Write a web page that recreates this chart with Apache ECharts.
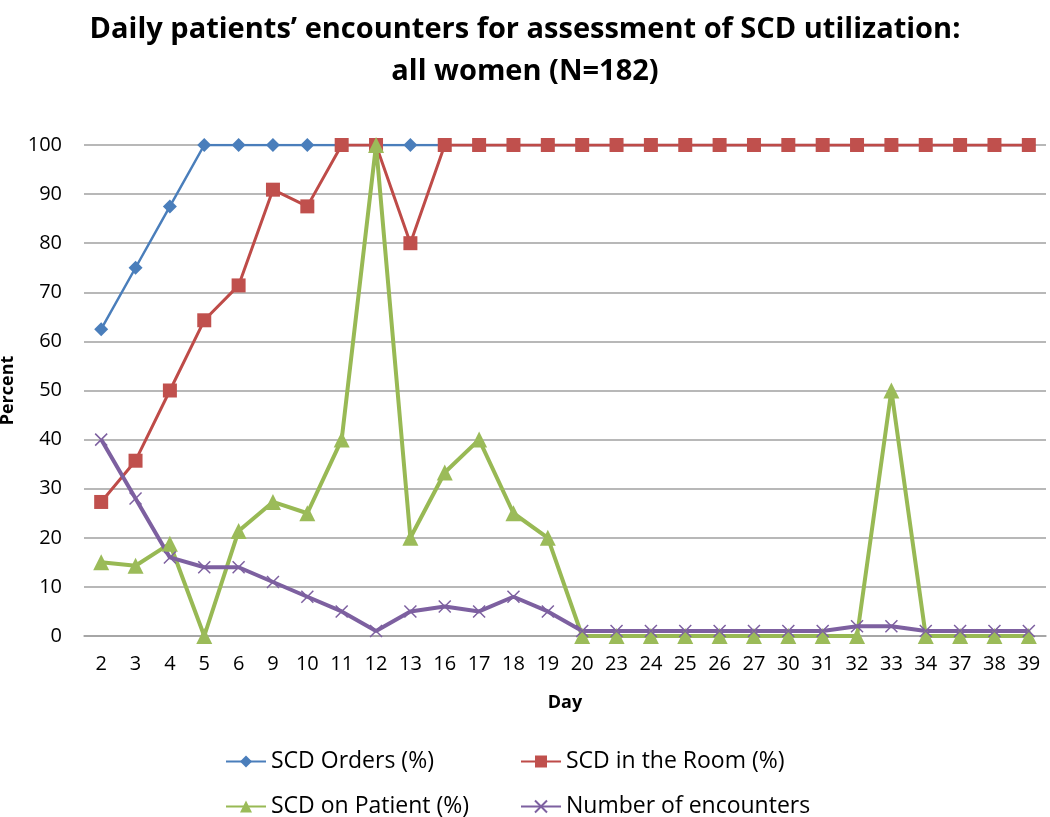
<!DOCTYPE html>
<html><head><meta charset="utf-8">
<script src="https://cdn.jsdelivr.net/npm/echarts@6/dist/echarts.min.js"></script>
<style>html,body{margin:0;padding:0;background:#fff}#c{width:1050px;height:817px}</style>
</head><body><div id="c"></div>
<script>
const days = ['2','3','4','5','6','9','10','11','12','13','16','17','18','19','20','23','24','25','26','27','30','31','32','33','34','37','38','39'];
const scdOrders = [62.5,75,87.5,100,100,100,100,100,100,100,100,100,100,100,100,100,100,100,100,100,100,100,100,100,100,100,100,100];
const scdRoom = [27.3,35.7,50,64.3,71.4,90.9,87.5,100,100,80,100,100,100,100,100,100,100,100,100,100,100,100,100,100,100,100,100,100];
const scdPatient = [15,14.3,18.8,0,21.4,27.3,25,40,100,20,33.3,40,25,20,0,0,0,0,0,0,0,0,0,50,0,0,0,0];
const encounters = [40,28,16,14,14,11,8,5,1,5,6,5,8,5,1,1,1,1,1,1,1,1,2,2,1,1,1,1];
const yTicks = [0,10,20,30,40,50,60,70,80,90,100];

const font = '"Open Sans", "Liberation Sans", sans-serif';
const xPath = 'path://M0,0L10,10M10,0L0,10';
const chart = echarts.init(document.getElementById('c'), null, {renderer:'canvas'});
const legendText = {fontFamily: font, fontSize: 23, color: '#000'};
function leg(name, left, top){
  return {data:[name], left:left, top:top, itemWidth:40, itemHeight:15, itemGap:0,
    textStyle: legendText, selectedMode:false, padding:0};
}
chart.setOption({
  animation:false,
  backgroundColor:'#fff',
  title:{
    text:'Daily patients\u2019 encounters for assessment of SCD utilization:\nall women (N=182)',
    left:'center', top:4,
    textStyle:{fontFamily:font, fontWeight:'bold', fontSize:29, lineHeight:42, color:'#000'}
  },
  legend:[
    leg('SCD Orders (%)', 225, 750),
    leg('SCD in the Room (%)', 520, 750),
    leg('SCD on Patient (%)', 225, 795),
    leg('Number of encounters', 520, 795)
  ],
  grid:{left:84, right:4, top:145, bottom:181, outerBoundsMode:'none', containLabel:false},
  xAxis:{
    type:'category', data:days, boundaryGap:true,
    name:'Day', nameLocation:'middle', nameGap:58,
    nameTextStyle:{fontFamily:font, fontWeight:'bold', fontSize:18, color:'#000'},
    axisLine:{lineStyle:{color:'#A0A0A0', width:1.5}},
    axisTick:{show:false},
    axisLabel:{fontFamily:font, fontSize:20, color:'#000', margin:18, interval:0}
  },
  yAxis:{
    type:'value', min:0, max:100, interval:10,
    name:'Percent', nameLocation:'middle', nameGap:58, nameRotate:90,
    nameTextStyle:{fontFamily:font, fontWeight:'bold', fontSize:18, color:'#000'},
    axisLine:{show:false}, axisTick:{show:false},
    axisLabel:{fontFamily:font, fontSize:20, color:'#000', margin:22,
      formatter: v => yTicks.includes(v) ? String(v) : ''},
    splitLine:{lineStyle:{color:'#A0A0A0', width:1.5}}
  },
  series:[
    {name:'SCD Orders (%)', type:'line', data:scdOrders, symbol:'diamond', symbolSize:14,
     lineStyle:{color:'#4A7EBB', width:2.5}, itemStyle:{color:'#4A7EBB'}},
    {name:'SCD in the Room (%)', type:'line', data:scdRoom, symbol:'rect', symbolSize:14,
     lineStyle:{color:'#BE4B48', width:3}, itemStyle:{color:'#C0504D'}},
    {name:'SCD on Patient (%)', type:'line', data:scdPatient, symbol:'triangle', symbolSize:16,
     lineStyle:{color:'#98B954', width:4}, itemStyle:{color:'#9BBB59'}},
    {name:'Number of encounters', type:'line', data:encounters, symbol:xPath, symbolSize:12,
     lineStyle:{color:'#7D60A0', width:4}, itemStyle:{color:'#7D60A0', borderColor:'#7D60A0', borderWidth:1.5}}
  ]
});
</script></body></html>
